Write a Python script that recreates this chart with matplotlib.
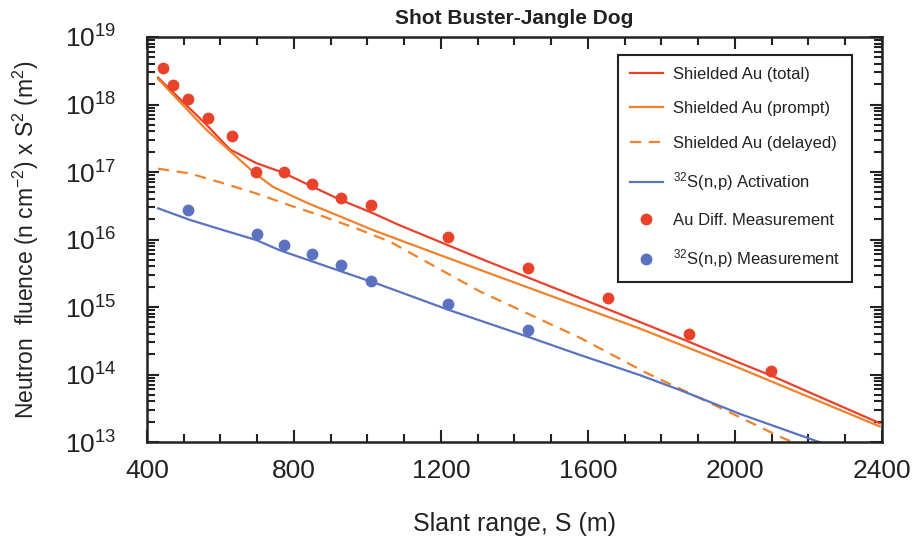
import numpy as np
import matplotlib
matplotlib.use("Agg")
import matplotlib.pyplot as plt
from matplotlib.ticker import FixedLocator, LogLocator, NullFormatter

plt.rcParams['font.family'] = ['Liberation Sans', 'DejaVu Sans']
plt.rcParams['mathtext.fontset'] = 'custom'
plt.rcParams['mathtext.rm'] = 'Liberation Sans'
plt.rcParams['mathtext.it'] = 'Liberation Sans:italic'

# calculated curves: slant range (m) vs fluence x S^2
total_x = [430, 562, 626, 698, 770, 852, 925, 1015, 1088, 1306, 1741, 1850, 2014, 2101, 2394]
total_y = [2.5e18, 5.0e17, 2.15e17, 1.35e17, 9.8e16, 6.0e16, 3.9e16, 2.45e16, 1.62e16,
           5.25e15, 6.0e14, 3.47e14, 1.48e14, 9.5e13, 1.9e13]

prompt_x = [430, 562, 694, 743, 835, 925, 1015, 1088, 1306, 1741, 2014, 2394]
prompt_y = [2.4e18, 4.2e17, 9.5e16, 6.0e16, 3.5e16, 2.2e16, 1.38e16, 9.8e15, 3.55e15,
            4.8e14, 1.23e14, 1.7e13]

delayed_x = [430, 517, 608, 698, 789, 879, 971, 1061, 1306, 1578, 1760, 1896, 1995, 2122, 2200]
delayed_y = [1.12e17, 9.5e16, 6.8e16, 4.8e16, 3.2e16, 2.2e16, 1.45e16, 9.3e15, 1.7e15,
             3.5e14, 1.05e14, 4.7e13, 2.6e13, 1.2e13, 7.9e12]

sulfur_x = [430, 517, 607, 698, 762, 1034, 1220, 1438, 1578, 1741, 1850, 2014, 2250]
sulfur_y = [2.9e16, 1.95e16, 1.38e16, 9.8e15, 6.9e15, 2.14e15, 9.1e14, 3.6e14, 1.95e14,
            9.8e13, 5.9e13, 2.6e13, 9.1e12]

# measurements
au_meas_x = [443, 471, 512, 566, 631, 697, 773, 849, 928, 1009, 1219, 1437, 1654, 1875, 2098]
au_meas_y = [3.47e18, 1.95e18, 1.2e18, 6.3e17, 3.4e17, 1.0e17, 1.0e17, 6.6e16, 4.1e16,
             3.2e16, 1.1e16, 3.8e15, 1.35e15, 4.0e14, 1.12e14]

s_meas_x = [512, 698, 773, 849, 928, 1009, 1220, 1438]
s_meas_y = [2.7e16, 1.2e16, 8.3e15, 6.2e15, 4.2e15, 2.45e15, 1.1e15, 4.5e14]

x_ticks = [400, 800, 1200, 1600, 2000, 2400]
y_exponents = list(range(13, 20))

red = '#e9422b'
orange = '#f0822c'
blue = '#5a72c0'
ink = '#222222'

fig = plt.figure(figsize=(9.17, 5.37), dpi=100)
ax = fig.add_axes([0.1603, 0.1769, 0.8015, 0.7542])

ax.plot(total_x, total_y, color=red, lw=1.6, label='Shielded Au (total)')
ax.plot(prompt_x, prompt_y, color=orange, lw=1.6, label='Shielded Au (prompt)')
ax.plot(delayed_x, delayed_y, color=orange, lw=1.6, dashes=(5, 3.5),
        label='Shielded Au (delayed)')
ax.plot(sulfur_x, sulfur_y, color=blue, lw=1.6, label='$^{32}$S(n,p) Activation')
ax.plot(au_meas_x, au_meas_y, 'o', color=red, ms=8.5, mec='none',
        label='Au Diff. Measurement')
ax.plot(s_meas_x, s_meas_y, 'o', color=blue, ms=8.5, mec='none',
        label='$^{32}$S(n,p) Measurement')

ax.set_yscale('log')
ax.set_xlim(400, 2400)
ax.set_ylim(1e13, 1e19)

ax.xaxis.set_major_locator(FixedLocator(x_ticks))
ax.xaxis.set_minor_locator(FixedLocator(np.arange(400, 2401, 100)))
ax.yaxis.set_minor_locator(LogLocator(base=10, subs=np.arange(2, 10), numticks=10))
ax.yaxis.set_minor_formatter(NullFormatter())
ax.set_yticks([10.0 ** k for k in y_exponents])
ax.set_yticklabels(['10$^{%d}$' % k for k in y_exponents])

ax.tick_params(which='both', direction='in', top=True, right=True, width=1.5,
               labelsize=19, colors=ink)
ax.tick_params(which='major', length=8.5)
ax.tick_params(which='minor', length=5.5)
ax.tick_params(axis='x', pad=12)
ax.tick_params(axis='y', pad=22)
for sp in ax.spines.values():
    sp.set_linewidth(1.8)
    sp.set_color(ink)

ax.set_xlabel('Slant range, S (m)', fontsize=18, labelpad=21, color=ink)
ax.set_ylabel('Neutron  fluence (n cm$^{-2}$) x S$^2$ (m$^2$)', fontsize=16.5,
              labelpad=17, color=ink)
ax.set_title('Shot Buster-Jangle Dog', fontsize=15, fontweight='bold', pad=9, color=ink)

leg = ax.legend(loc='upper right', bbox_to_anchor=(0.959, 0.956), fontsize=12,
                numpoints=1, handlelength=2.0, labelspacing=1.17, borderpad=0.72,
                handletextpad=0.6, borderaxespad=0, fancybox=False, framealpha=1)
leg.get_frame().set_edgecolor(ink)
leg.get_frame().set_linewidth(1.5)
for t in leg.get_texts():
    t.set_color(ink)

fig.savefig('out.png', dpi=100)
